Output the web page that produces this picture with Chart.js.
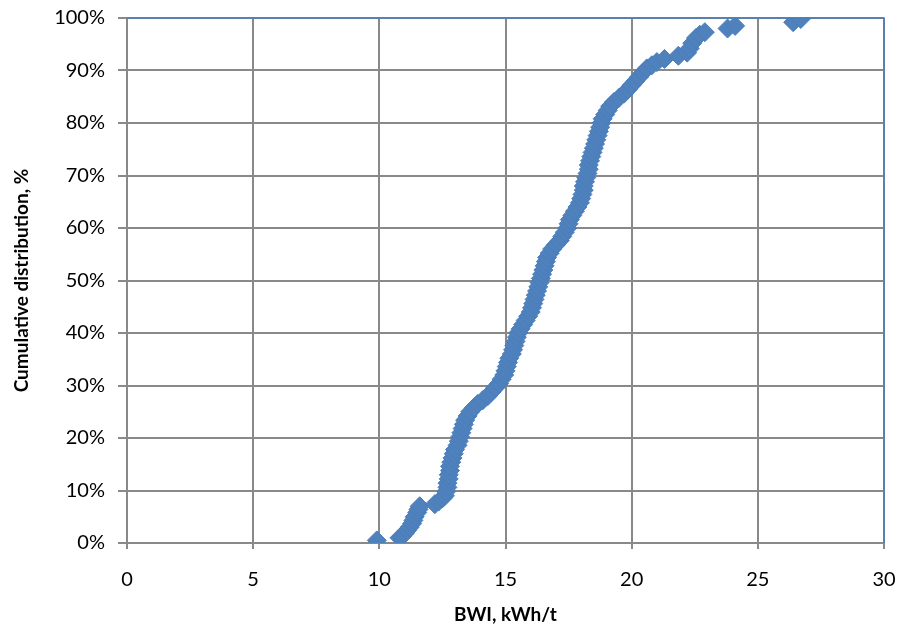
<!DOCTYPE html>
<html>
<head>
<meta charset="utf-8">
<script src="https://cdn.jsdelivr.net/npm/chart.js@4"></script>
<style>
html,body{margin:0;padding:0;background:#fff;}
#wrap{width:901px;height:629px;}
</style>
</head>
<body>
<div id="wrap"><canvas id="c" width="901" height="629"></canvas></div>
<script>
const bwi = [9.9,10.8,10.9,11.0,11.1,11.2,11.3,11.35,11.4,11.5,11.55,11.6,12.2,12.35,12.5,12.6,12.65,12.7,12.7,12.75,12.75,12.8,12.8,12.85,12.9,12.95,13.0,13.1,13.15,13.2,13.25,13.3,13.35,13.4,13.5,13.6,13.75,13.9,14.1,14.3,14.45,14.6,14.75,14.85,14.95,15.0,15.05,15.1,15.15,15.25,15.3,15.35,15.4,15.45,15.5,15.6,15.7,15.8,15.9,16.0,16.05,16.1,16.15,16.2,16.25,16.3,16.35,16.4,16.45,16.5,16.55,16.6,16.65,16.75,16.85,17.0,17.15,17.25,17.35,17.45,17.5,17.55,17.65,17.75,17.85,17.95,18.0,18.05,18.1,18.1,18.15,18.2,18.25,18.3,18.3,18.35,18.4,18.45,18.5,18.55,18.6,18.65,18.7,18.75,18.8,18.85,18.95,19.05,19.15,19.3,19.5,19.7,19.85,20.0,20.15,20.3,20.45,20.6,20.8,21.0,21.3,21.85,22.2,22.3,22.4,22.55,22.7,22.9,23.8,24.1,26.4,26.7];
const cumPct = [0.5,1.0,1.3,1.8,2.4,3.0,3.7,4.3,5.0,5.8,6.4,7.0,7.4,7.9,8.5,9.0,9.8,10.6,11.4,12.2,13.0,13.8,14.6,15.4,16.2,17.0,17.8,18.6,19.4,20.2,21.0,21.8,22.6,23.4,24.2,25.0,25.8,26.5,27.2,28.0,28.8,29.6,30.4,31.2,32.0,32.8,33.6,34.4,35.2,36.0,36.8,37.6,38.4,39.2,40.0,40.8,41.6,42.4,43.2,44.0,44.8,45.6,46.4,47.2,48.0,48.8,49.6,50.4,51.2,52.0,52.8,53.6,54.4,55.2,56.0,56.8,57.6,58.4,59.2,60.0,60.8,61.6,62.4,63.2,64.0,64.8,65.6,66.4,67.2,68.0,68.8,69.6,70.4,71.2,72.0,72.8,73.6,74.4,75.2,76.0,76.8,77.6,78.4,79.2,80.0,80.8,81.6,82.4,83.2,84.0,84.8,85.6,86.4,87.2,88.0,88.8,89.6,90.4,91.0,91.6,92.2,92.8,93.4,94.2,95.2,96.2,96.8,97.3,98.0,98.5,99.2,99.8];
const xTitle = "BWI, kWh/t";
const yTitle = "Cumulative distribution, %";

const points = bwi.map((x,i)=>({x:x, y:cumPct[i]}));
const FONT = "Lato, 'Open Sans', sans-serif";

const borderPlugin = {
  id:'plotBorder',
  afterDraw(chart){
    const a = chart.chartArea, ctx = chart.ctx;
    ctx.save();
    ctx.strokeStyle = '#4A7EBB';
    ctx.lineWidth = 1.5;
    ctx.beginPath();
    ctx.moveTo(a.left, a.top);
    ctx.lineTo(a.right, a.top);
    ctx.lineTo(a.right, a.bottom);
    ctx.stroke();
    ctx.restore();
  }
};

new Chart(document.getElementById('c'), {
  type:'scatter',
  data:{datasets:[{
    data:points,
    pointStyle:'rectRot',
    pointRadius:9.5,
    pointBackgroundColor:'#4F81BD',
    pointBorderColor:'#4A7EBB',
    pointBorderWidth:1
  }]},
  options:{
    responsive:false,
    animation:false,
    plugins:{legend:{display:false}, tooltip:{enabled:false}},
    layout:{padding:{top:18,right:17,left:0,bottom:0}},
    scales:{
      x:{
        type:'linear', min:0, max:30,
        ticks:{stepSize:5, color:'#000', font:{family:FONT,size:20}, padding:19},
        grid:{color:'#898989', lineWidth:2, tickLength:6, drawTicks:true},
        border:{color:'#898989', width:2},
        title:{display:true, text:xTitle, color:'#000', font:{family:FONT,size:19,weight:'bold'}, padding:{top:12,bottom:3}},
        afterFit(s){ s.height = 86; s.paddingLeft = 0; s.paddingRight = 0; }
      },
      y:{
        type:'linear', min:0, max:100,
        ticks:{stepSize:10, color:'#000', font:{family:FONT,size:20}, padding:13, callback:v=>v+'%'},
        grid:{color:'#898989', lineWidth:2, tickLength:9, drawTicks:true},
        border:{color:'#898989', width:2},
        title:{display:true, text:yTitle, color:'#000', font:{family:FONT,size:19,weight:'bold'}, padding:{top:10,bottom:4}},
        afterFit(s){ s.width = 127; s.paddingTop = 0; s.paddingBottom = 0; }
      }
    }
  },
  plugins:[borderPlugin]
});
</script>
</body>
</html>
